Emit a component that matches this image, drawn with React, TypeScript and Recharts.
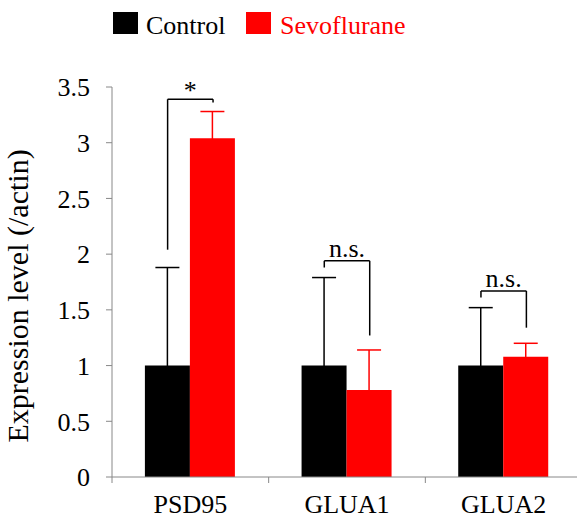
import React from "react";
import { BarChart, Bar, XAxis, YAxis, ErrorBar, ReferenceLine } from "recharts";

const categories = ["PSD95", "GLUA1", "GLUA2"];
const seriesNames = ["Control", "Sevoflurane"];
const controlMeans = [1, 1, 1];
const controlErr = [0.88, 0.79, 0.52];
const sevoMeans = [3.04, 0.78, 1.08];
const sevoErr = [0.24, 0.36, 0.12];
const yTicks = [0, 0.5, 1, 1.5, 2, 2.5, 3, 3.5];

const bracketLabels = ["*", "n.s.", "n.s."];
const bracketTop = [3.39, 1.94, 1.67];
const bracketLeftBottom = [2.04, 1.88, 1.61];
const bracketRightBottom = [3.36, 1.27, 1.34];

const FONT = "'Liberation Serif', 'Times New Roman', serif";
const AXIS = "#888";
const BLACK = "#000000";
const RED = "#ff0000";
const BAR_OFFSET = 0.145;

const rows = categories.map((name, i) => ({
  name,
  pos: i + 0.5,
  control: controlMeans[i],
  controlErr: controlErr[i],
  sevo: sevoMeans[i],
  sevoErr: sevoErr[i],
}));

function CatTick(props: any) {
  const { x, y, payload } = props;
  const v = payload.value as number;
  if (Number.isInteger(v)) {
    return <line x1={x} x2={x} y1={y} y2={y + 6} stroke={AXIS} strokeWidth={1} />;
  }
  const idx = Math.floor(v);
  return (
    <text x={x} y={y + 36} textAnchor="middle" fontSize={26} fontFamily={FONT} fill="#000">
      {categories[idx]}
    </text>
  );
}

function YLabel() {
  return (
    <text
      x={28}
      y={296}
      transform="rotate(-90, 28, 296)"
      textAnchor="middle"
      fontSize={30}
      fontFamily={FONT}
      fill="#000"
    >
      Expression level (/actin)
    </text>
  );
}

export default function App() {
  return (
    <div
      style={{
        position: "absolute",
        left: 0,
        top: 0,
        width: 577,
        height: 519,
        overflow: "hidden",
        background: "#fff",
      }}
    >
      <BarChart
        width={582}
        height={519}
        data={rows}
        margin={{ top: 87, right: 0, bottom: 0, left: 0 }}
        barCategoryGap="21%"
        barGap={0}
      >
        <XAxis xAxisId="cat" dataKey="name" type="category" hide orientation="top" height={0} />
        <XAxis
          xAxisId="num"
          dataKey="pos"
          type="number"
          domain={[0, 3]}
          ticks={[0, 0.5, 1, 1.5, 2, 2.5, 3]}
          interval={0}
          tickLine={false}
          tickSize={0}
          tickMargin={0}
          axisLine={{ stroke: AXIS, strokeWidth: 1 }}
          height={42}
          tick={<CatTick />}
          allowDataOverflow
        />
        <YAxis
          domain={[0, 3.5]}
          ticks={yTicks}
          interval={0}
          width={112}
          tickSize={6}
          tickMargin={16}
          axisLine={{ stroke: AXIS, strokeWidth: 1 }}
          tickLine={{ stroke: AXIS, strokeWidth: 1 }}
          tick={{ fill: "#000", fontSize: 26, fontFamily: FONT }}
          label={<YLabel />}
        />
        <Bar xAxisId="cat" dataKey="control" name={seriesNames[0]} fill={BLACK} isAnimationActive={false}>
          <ErrorBar dataKey="controlErr" width={12} stroke={BLACK} strokeWidth={1.5} isAnimationActive={false} />
        </Bar>
        <Bar xAxisId="cat" dataKey="sevo" name={seriesNames[1]} fill={RED} isAnimationActive={false}>
          <ErrorBar dataKey="sevoErr" width={12} stroke={RED} strokeWidth={1.5} isAnimationActive={false} />
        </Bar>
        {categories.map((c, i) => {
          const lx = i + 0.5 - BAR_OFFSET;
          const rx = i + 0.5 + BAR_OFFSET;
          return (
            <React.Fragment key={c}>
              <ReferenceLine
                xAxisId="num"
                segment={[
                  { x: lx, y: bracketLeftBottom[i] },
                  { x: lx, y: bracketTop[i] },
                ]}
                stroke="#000"
                strokeWidth={1.5}
                ifOverflow="visible"
              />
              <ReferenceLine
                xAxisId="num"
                segment={[
                  { x: rx, y: bracketRightBottom[i] },
                  { x: rx, y: bracketTop[i] },
                ]}
                stroke="#000"
                strokeWidth={1.5}
                ifOverflow="visible"
              />
              <ReferenceLine
                xAxisId="num"
                segment={[
                  { x: lx, y: bracketTop[i] },
                  { x: rx, y: bracketTop[i] },
                ]}
                stroke="#000"
                strokeWidth={1.5}
                ifOverflow="visible"
                label={{
                  value: bracketLabels[i],
                  position: "top",
                  offset: bracketLabels[i] === "*" ? 0 : 4,
                  fontSize: 26,
                  fill: "#000",
                  fontFamily: FONT,
                }}
              />
            </React.Fragment>
          );
        })}
      </BarChart>
      <svg
        width={577}
        height={50}
        style={{ position: "absolute", left: 0, top: 0, pointerEvents: "none" }}
      >
        <rect x={113} y={12} width={25} height={22} fill={BLACK} />
        <text x={146} y={34} fontSize={26} fontFamily={FONT} fill="#000">
          {seriesNames[0]}
        </text>
        <rect x={246} y={12} width={25} height={22} fill={RED} />
        <text x={280} y={34} fontSize={26} fontFamily={FONT} fill={RED}>
          {seriesNames[1]}
        </text>
      </svg>
    </div>
  );
}
